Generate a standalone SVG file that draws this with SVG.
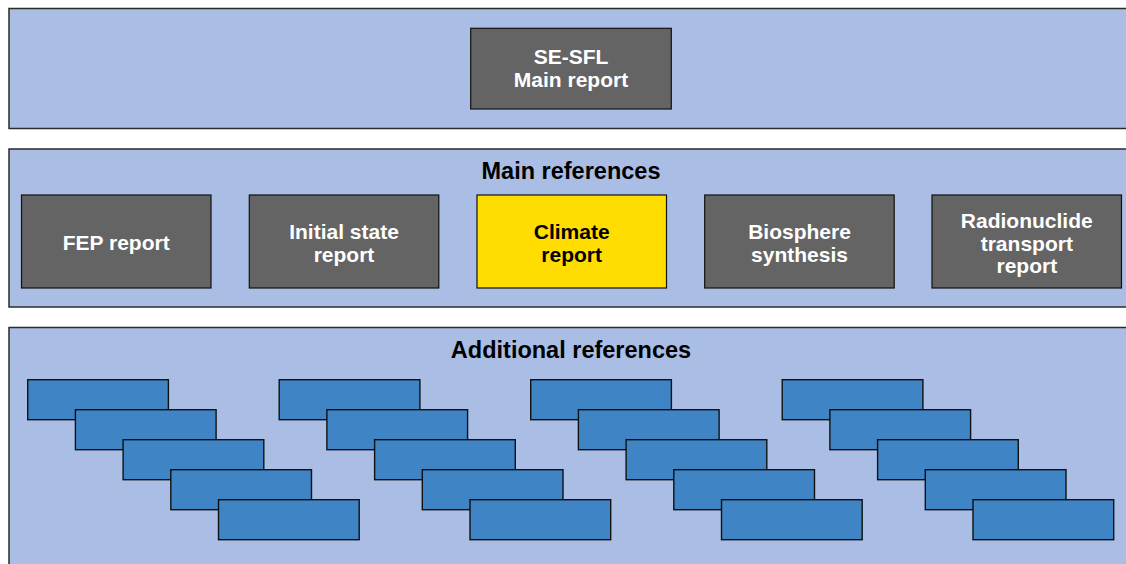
<svg xmlns="http://www.w3.org/2000/svg" xmlns:xlink="http://www.w3.org/1999/xlink" width="1126" height="564" viewBox="0 0 1126 564">
  <style>
    .band { fill: #aabee5; stroke: #2a2a2a; stroke-width: 1.5; }
    .report { fill: #646464; stroke: #111; stroke-width: 1.2; }
    .focus { fill: #ffdd00; stroke: #111; stroke-width: 1.2; }
    .doc { fill: #3f84c5; stroke: #111; stroke-width: 1.4; }
    .label { font-family: "Liberation Sans", Arial, sans-serif; font-weight: bold; font-size: 21px; text-anchor: middle; fill: #ffffff; }
    .label.dark { fill: #000000; }
    .heading { font-family: "Liberation Sans", Arial, sans-serif; font-weight: bold; font-size: 23.5px; text-anchor: middle; fill: #000000; }
  </style>
  <defs>
    <!-- five staggered document sheets -->
    <g id="sheet-stack">
      <rect class="doc" x="0" y="0" width="140.7" height="40"/>
      <rect class="doc" x="47.7" y="30" width="140.7" height="40"/>
      <rect class="doc" x="95.4" y="60" width="140.7" height="40"/>
      <rect class="doc" x="143.1" y="90" width="140.7" height="40"/>
      <rect class="doc" x="190.8" y="120" width="140.7" height="40"/>
    </g>
  </defs>

  <rect width="1126" height="564" fill="#ffffff"/>

  <!-- tier 1: main report -->
  <g id="tier-main-report">
    <rect class="band" x="9" y="8.5" width="1130" height="120"/>
  </g>
  <g id="node-se-sfl">
    <rect class="report" x="470.7" y="28.3" width="200.6" height="80.7"/>
    <text class="label" x="571" y="64">SE-SFL</text>
    <text class="label" x="571" y="87">Main report</text>
  </g>

  <!-- tier 2: main references -->
  <g id="tier-main-references">
    <rect class="band" x="9" y="149" width="1130" height="158"/>
    <text class="heading" x="571" y="178.5">Main references</text>
  </g>
  <g id="node-fep">
    <rect class="report" x="21.5" y="195" width="189.5" height="93"/>
    <text class="label" x="116.2" y="250">FEP report</text>
  </g>
  <g id="node-initial-state">
    <rect class="report" x="249.3" y="195" width="189.5" height="93"/>
    <text class="label" x="344" y="239">Initial state</text>
    <text class="label" x="344" y="262">report</text>
  </g>
  <g id="node-climate">
    <rect class="focus" x="477" y="195" width="189.5" height="93"/>
    <text class="label dark" x="571.7" y="239">Climate</text>
    <text class="label dark" x="571.7" y="262">report</text>
  </g>
  <g id="node-biosphere">
    <rect class="report" x="704.7" y="195" width="189.5" height="93"/>
    <text class="label" x="799.5" y="239">Biosphere</text>
    <text class="label" x="799.5" y="262">synthesis</text>
  </g>
  <g id="node-radionuclide">
    <rect class="report" x="932" y="195" width="189.5" height="93"/>
    <text class="label" x="1026.8" y="228">Radionuclide</text>
    <text class="label" x="1026.8" y="250.5">transport</text>
    <text class="label" x="1026.8" y="273">report</text>
  </g>

  <!-- tier 3: additional references -->
  <g id="tier-additional-references">
    <rect class="band" x="9" y="327.5" width="1130" height="250"/>
    <text class="heading" x="571" y="358">Additional references</text>
  </g>
  <g id="stack-1"><use xlink:href="#sheet-stack" x="27.7" y="379.7"/></g>
  <g id="stack-2"><use xlink:href="#sheet-stack" x="279.2" y="379.7"/></g>
  <g id="stack-3"><use xlink:href="#sheet-stack" x="530.7" y="379.7"/></g>
  <g id="stack-4"><use xlink:href="#sheet-stack" x="782.2" y="379.7"/></g>
</svg>
